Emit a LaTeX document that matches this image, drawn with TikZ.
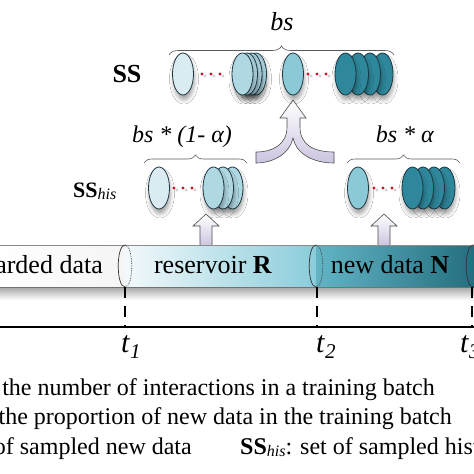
\documentclass[tikz,border=0pt]{standalone}
\usepackage{fontspec}
\setmainfont{Liberation Serif}
\usetikzlibrary{arrows.meta, positioning, calc, shapes.geometric, shadows.blur, decorations.pathreplacing}
\definecolor{ovpale}{RGB}{218,235,241}
\definecolor{ovlight}{RGB}{176,216,227}
\definecolor{ovmid}{RGB}{140,201,215}
\definecolor{ovdark}{RGB}{46,135,155}
\definecolor{ovline}{RGB}{30,55,65}
\definecolor{dotred}{RGB}{200,20,40}
\definecolor{arrfill}{RGB}{204,196,224}
\definecolor{resleft}{RGB}{242,249,251}
\definecolor{resright}{RGB}{138,204,218}
\definecolor{newleft}{RGB}{98,180,197}
\definecolor{newright}{RGB}{33,108,124}

\begin{document}
\begin{tikzpicture}[
  x=1pt, y=-1pt,
  oval/.style={ellipse, draw=ovline, line width=0.8pt, minimum width=21pt,
               minimum height=42pt, inner sep=0pt,
               blur shadow={shadow xshift=1pt, shadow yshift=-5pt, shadow blur radius=4pt, shadow opacity=35}},
  dotr/.style={fill=dotred},
  dotsh/.style={fill=black!18},
  brc/.style={decorate, decoration={brace, amplitude=#1}, draw=black!65, line width=0.6pt},
  blk/.style={top color=white, bottom color=arrfill, draw=black!70, line width=0.6pt},
  tick/.style={line width=1.6pt, dash pattern=on 11pt off 8pt},
  endl/.style={draw=black!80, line width=0.7pt},
  bigtxt/.style={font=\fontsize{26}{30}\selectfont},
  midtxt/.style={font=\fontsize{24}{28}\selectfont},
]
\useasboundingbox (0,0) rectangle (474,474);
\fill[white] (0,0) rectangle (474,474);
\clip (0,0) rectangle (474,474);

\node[bigtxt, anchor=base] (bstop) at (282,30) {\textit{bs}};
\draw[brc=9pt] (169,55) -- (394,55);
\node[font=\fontsize{26}{30}\selectfont\bfseries, anchor=base] (ss) at (127,82) {SS};

\shade[blk] (293,100) -- (306,118) -- (300,118) -- (300,127)
  .. controls (300,145) and (314,152) .. (334,152) -- (334,163)
  .. controls (312,163) and (296,153) .. (293,138)
  .. controls (290,153) and (274,163) .. (256,163) -- (256,152)
  .. controls (272,152) and (287,145) .. (287,127) -- (287,118) -- (280,118) -- cycle;

\node[oval, fill=ovpale] (h1) at (183,74) {};
\foreach \x in {202,211,220} {
  \fill[dotsh] (\x+3,76) circle (1.7);
  \fill[dotr] (\x,74) circle (1.7);
}
\foreach \x [count=\i] in {256,251.5,247,242.5}
  \node[oval, fill=ovlight] (hs\i) at (\x,74) {};
\node[oval, fill=ovmid] (n1) at (293,74) {};
\foreach \x in {308,317,326} {
  \fill[dotsh] (\x+3,76) circle (1.7);
  \fill[dotr] (\x,74) circle (1.7);
}
\foreach \x [count=\i] in {382.5,370,358,345.5}
  \node[oval, fill=ovdark] (ns\i) at (\x,74) {};

\node[midtxt, anchor=base] (lblh) at (182,142) {\textit{bs * (1- α)}};
\node[midtxt, anchor=base] (lbln) at (405,142) {\textit{bs * α}};
\draw[brc=8pt] (144,163) -- (247,163);
\draw[brc=8pt] (347,163) -- (460,163);
\node[font=\fontsize{22}{26}\selectfont, anchor=base west, inner sep=0pt] (sshis) at (73,197)
  {\textbf{SS}\raisebox{-2pt}{\fontsize{16}{18}\selectfont\textit{his}}};

\node[oval, fill=ovpale] (r1) at (159,188) {};
\foreach \x in {174,183,192} {
  \fill[dotsh] (\x+3,190) circle (1.7);
  \fill[dotr] (\x,188) circle (1.7);
}
\foreach \x [count=\i] in {232.5,223,213.5}
  \node[oval, fill=ovlight] (rs\i) at (\x,188) {};
\node[oval, fill=ovmid] (m1) at (358,188) {};
\foreach \x in {374,383,392} {
  \fill[dotsh] (\x+3,190) circle (1.7);
  \fill[dotr] (\x,188) circle (1.7);
}
\foreach \x [count=\i] in {444.5,434,423,412.5}
  \node[oval, fill=ovdark] (ms\i) at (\x,188) {};

\foreach \x in {206,384}
  \shade[blk] (\x,214) -- (\x+13,226) -- (\x+6,226) -- (\x+6,246) -- (\x-6,246)
    -- (\x-6,226) -- (\x-13,226) -- cycle;

\shade[top color=black!35, bottom color=white] (-5,287) rectangle (480,300);
\shade[left color=white, right color=black!4] (-5,245) rectangle (125,287);
\shade[left color=resleft, right color=resright] (125,245) rectangle (316,287);
\shade[left color=newleft, right color=newright] (316,245) rectangle (480,287);
\draw[black!45, line width=0.6pt] (-5,245) -- (480,245);
\draw[black!55, line width=0.6pt] (-5,287) -- (480,287);
\foreach \x in {125,316,473} {
  \draw[endl] (\x,245) .. controls (\x-9,245) and (\x-9,287) .. (\x,287);
  \draw[endl, densely dotted] (\x,245) .. controls (\x+9,245) and (\x+9,287) .. (\x,287);
}

\node[bigtxt, anchor=base east, inner sep=0pt] (disc) at (103,273) {discarded data};
\node[bigtxt, anchor=base, inner sep=0pt] (res) at (213,273) {reservoir \textbf{R}};
\node[bigtxt, anchor=base, inner sep=0pt] (new) at (390,273) {new data \textbf{N}};

\draw[line width=1.6pt] (-5,327) -- (480,327);
\foreach \x in {125,317,472}
  \draw[tick] (\x,287) -- (\x,327);
\foreach \x/\n in {121/1, 316/2, 460/3}
  \node[font=\fontsize{30}{32}\selectfont, anchor=base west, inner sep=0pt] (t\n) at (\x,352)
    {\textit{t}\raisebox{-6pt}{\fontsize{21}{22}\selectfont\textit{\n}}};

\node[midtxt, anchor=base east, inner sep=0pt] (leg1) at (435,395)
  {\textit{bs}: the number of interactions in a training batch};
\node[midtxt, anchor=base east, inner sep=0pt] (leg2) at (452,424)
  {\textit{α}: the proportion of new data in the training batch};
\node[midtxt, anchor=base east, inner sep=0pt] (leg3) at (192,454)
  {\textbf{SS}\raisebox{-2pt}{\fontsize{16}{18}\selectfont\textit{new}}: set of sampled new data};
\node[midtxt, anchor=base west, inner sep=0pt] (leg4) at (240,454)
  {\textbf{SS}\raisebox{-2pt}{\fontsize{16}{18}\selectfont\textit{his}}: set of sampled historical data};
\end{tikzpicture}
\end{document}
